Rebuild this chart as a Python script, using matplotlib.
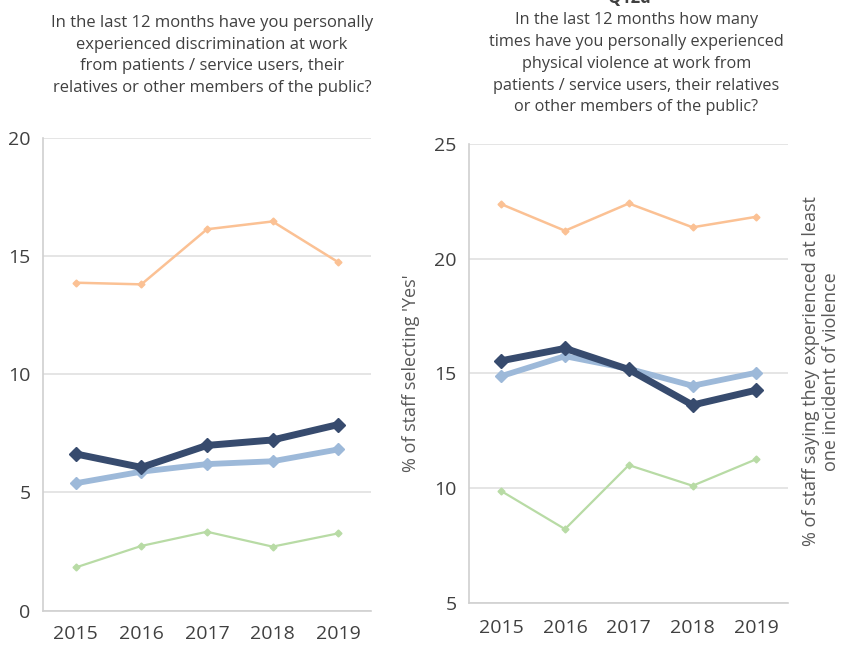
import matplotlib.pyplot as plt

plt.rcParams['font.family'] = ['Open Sans', 'DejaVu Sans']

years = [2015, 2016, 2017, 2018, 2019]

# Q: discrimination from patients / public (left panel)
disc_orange = [13.87, 13.80, 16.13, 16.46, 14.74]
disc_navy = [6.63, 6.06, 6.99, 7.22, 7.87]
disc_lightblue = [5.39, 5.88, 6.20, 6.32, 6.82]
disc_green = [1.83, 2.74, 3.34, 2.71, 3.27]

# Q12d: physical violence from patients / public (right panel)
viol_orange = [22.38, 21.22, 22.41, 21.37, 21.83]
viol_navy = [15.55, 16.09, 15.17, 13.62, 14.27]
viol_lightblue = [14.88, 15.75, 15.20, 14.46, 15.03]
viol_green = [9.87, 8.21, 11.00, 10.10, 11.26]

left_ticks = [0, 5, 10, 15, 20]
right_ticks = [5, 10, 15, 20, 25]

orange = '#FBC194'
navy = '#374B6E'
lightblue = '#9DB9D9'
green = '#B8DBA5'
txt = '#404040'
grid = '#E0E0E0'

fig = plt.figure(figsize=(8.43, 6.46), dpi=100)
ax1 = fig.add_axes([0.051, 0.0546, 0.389, 0.7322])
ax2 = fig.add_axes([0.5567, 0.067, 0.3784, 0.710])


def draw(ax, o, n, lb, g, ticks, xpad):
    ax.plot(years, o, color=orange, lw=1.8, marker='D', ms=3.5, zorder=3)
    ax.plot(years, g, color=green, lw=1.6, marker='D', ms=3.5, zorder=3)
    ax.plot(years, lb, color=lightblue, lw=4.2, marker='D', ms=6, zorder=4)
    ax.plot(years, n, color=navy, lw=5, marker='D', ms=7, zorder=5)
    ax.set_xlim(2014.5, 2019.5)
    ax.set_ylim(ticks[0], ticks[-1])
    ax.set_yticks(ticks)
    ax.set_xticks(years)
    ax.grid(axis='y', color=grid, lw=1.2)
    ax.set_axisbelow(True)
    for s in ['top', 'right']:
        ax.spines[s].set_visible(False)
    for s in ['left', 'bottom']:
        ax.spines[s].set_color('#D0D0D0')
        ax.spines[s].set_linewidth(1.2)
    ax.tick_params(length=0, labelsize=14, labelcolor=txt)
    ax.tick_params(axis='x', pad=xpad)
    ax.tick_params(axis='y', pad=9)


draw(ax1, disc_orange, disc_navy, disc_lightblue, disc_green, left_ticks, 10)
draw(ax2, viol_orange, viol_navy, viol_lightblue, viol_green, right_ticks, 12)

ax2.set_ylabel("% of staff selecting 'Yes'", fontsize=13, color='#595959', labelpad=10)

fig.text(0.974, 0.425, "% of staff saying they experienced at least\none incident of violence",
         rotation=90, ha='center', va='center', fontsize=13, color='#595959',
         linespacing=1.1)

fig.text(0.2515, 0.914,
         "In the last 12 months have you personally\nexperienced discrimination at work\n"
         "from patients / service users, their\nrelatives or other members of the public?",
         ha='center', va='center', fontsize=12, color=txt, linespacing=1.45)

fig.text(0.747, 1.003, "Q12d", ha='center', va='center', fontsize=12,
         fontweight='bold', color=txt)
fig.text(0.755, 0.901, "In the last 12 months how many\ntimes have you personally experienced\n"
         "physical violence at work from\npatients / service users, their relatives\n"
         "or other members of the public?",
         ha='center', va='center', fontsize=11.7, color=txt, linespacing=1.48)

fig.savefig('out.png', dpi=100)
